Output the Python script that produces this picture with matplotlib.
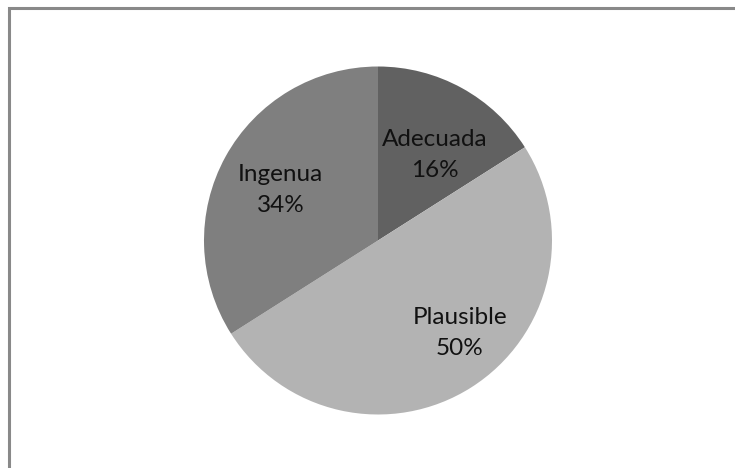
import matplotlib.pyplot as plt
import numpy as np
from matplotlib.patches import Rectangle

categorias = ["Adecuada", "Plausible", "Ingenua"]
porcentajes = [16, 50, 34]
colores = ["#616161", "#b3b3b3", "#7f7f7f"]

# where each label sits, as a fraction of the radius, plus a small angle nudge
dist_etiqueta = [0.59, 0.71, 0.63]
giro_etiqueta = [-5, 9, 1.5]

W, H = 735, 468
fig = plt.figure(figsize=(W / 100, H / 100), dpi=100)
ax = fig.add_axes([0, 0, 1, 1])
ax.set_xlim(0, W)
ax.set_ylim(0, H)
ax.set_aspect("equal")
ax.axis("off")

# chart frame, open at right and bottom
marco_top = H - 8
ax.add_patch(Rectangle((9, -10), W + 20, marco_top + 10, fill=False,
                       edgecolor="#898989", linewidth=2.2))

cx, cy, r = 378, H - 240.5, 174
wedges, _ = ax.pie(porcentajes, colors=colores, startangle=90,
                   counterclock=False, center=(cx, cy), radius=r,
                   wedgeprops=dict(linewidth=0))

for w, nombre, p, d, g in zip(wedges, categorias, porcentajes,
                              dist_etiqueta, giro_etiqueta):
    ang = np.deg2rad((w.theta1 + w.theta2) / 2 + g)
    x = cx + d * r * np.cos(ang)
    y = cy + d * r * np.sin(ang)
    ax.text(x, y, f"{nombre}\n{p}%", ha="center", va="center",
            fontsize=17.5, family=["Lato", "DejaVu Sans"], color="#111111",
            linespacing=1.6)

ax.set_xlim(0, W)
ax.set_ylim(0, H)
fig.savefig("out.png", dpi=100)
